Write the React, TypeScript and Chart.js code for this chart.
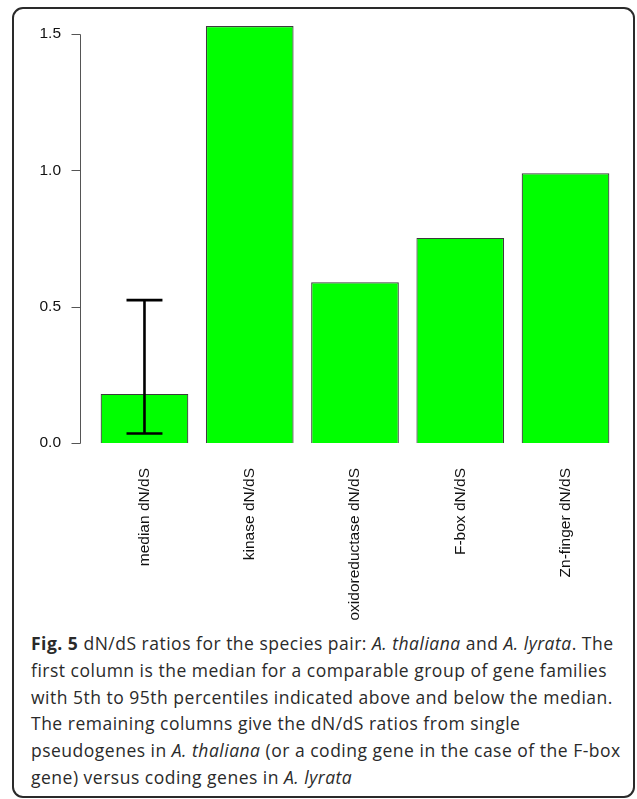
import React, { useEffect, useRef } from "react";
import { Chart, registerables } from "chart.js";

Chart.register(...registerables);

const categories = ["median dN/dS", "kinase dN/dS", "oxidoreductase dN/dS", "F-box dN/dS", "Zn-finger dN/dS"];
const ratios = [0.18, 1.529, 0.589, 0.752, 0.989];
const errLow = [0.035, null, null, null, null];
const errHigh = [0.524, null, null, null, null];
const yTicks = [0, 0.5, 1.0, 1.5];

const FONT = "'Liberation Sans', Arial, sans-serif";

const axisPlugin = {
  id: "rAxis",
  afterDatasetsDraw(chart: any) {
    const { ctx, chartArea } = chart;
    const y = chart.scales.y;
    ctx.save();
    // error bars
    const meta = chart.getDatasetMeta(0);
    ctx.strokeStyle = "#000";
    ctx.lineWidth = 2.6;
    meta.data.forEach((bar: any, i: number) => {
      const lo = errLow[i];
      const hi = errHigh[i];
      if (lo == null || hi == null) return;
      const cx = bar.x;
      const yl = y.getPixelForValue(lo);
      const yh = y.getPixelForValue(hi);
      const half = bar.width * 0.205;
      ctx.beginPath();
      ctx.moveTo(cx, yl);
      ctx.lineTo(cx, yh);
      ctx.moveTo(cx - half, yh);
      ctx.lineTo(cx + half, yh);
      ctx.moveTo(cx - half, yl);
      ctx.lineTo(cx + half, yl);
      ctx.stroke();
    });
    // y axis line and ticks
    const ax = Math.round(chartArea.left - 11.85) + 0.5;
    ctx.strokeStyle = "#555";
    ctx.lineWidth = 1;
    ctx.beginPath();
    ctx.moveTo(ax, Math.round(y.getPixelForValue(yTicks[0])) + 0.5);
    ctx.lineTo(ax, Math.round(y.getPixelForValue(yTicks[yTicks.length - 1])) + 0.5);
    yTicks.forEach((v) => {
      const py = Math.round(y.getPixelForValue(v)) + 0.5;
      ctx.moveTo(ax - 9, py);
      ctx.lineTo(ax, py);
    });
    ctx.stroke();
    ctx.restore();
  },
};

function BarChart() {
  const ref = useRef<HTMLCanvasElement>(null);
  useEffect(() => {
    const chart = new Chart(ref.current!, {
      type: "bar",
      data: {
        labels: categories,
        datasets: [
          {
            data: ratios,
            backgroundColor: "#00ff00",
            borderColor: "#3c3c3c",
            borderWidth: 1.2,
            barPercentage: 0.833,
            categoryPercentage: 1,
          },
        ],
      },
      options: {
        animation: false,
        responsive: false,
        devicePixelRatio: 1,
        layout: { padding: { left: 0, top: 20.3, right: 18.85, bottom: 0 } },
        plugins: { legend: { display: false }, tooltip: { enabled: false } },
        scales: {
          x: {
            type: "category",
            offset: true,
            grid: { display: false, drawTicks: false },
            border: { display: false },
            ticks: {
              minRotation: 90,
              maxRotation: 90,
              autoSkip: false,
              padding: 25,
              color: "#111",
              font: { family: FONT, size: 15.5 },
            },
            afterFit(scale: any) {
              scale.height = 187;
              scale.paddingLeft = 0;
              scale.paddingRight = 0;
            },
          },
          y: {
            type: "linear",
            min: 0,
            max: 1.55,
            grid: { display: false, drawTicks: false },
            border: { display: false },
            afterBuildTicks(scale: any) {
              scale.ticks = yTicks.map((v) => ({ value: v }));
            },
            ticks: {
              padding: 30.85,
              color: "#111",
              font: { family: FONT, size: 15.5 },
              callback: (v: any) => Number(v).toFixed(1),
            },
            afterFit(scale: any) {
              scale.width = 91.85;
              scale.paddingTop = 0;
              scale.paddingBottom = 0;
            },
          },
        },
      },
      plugins: [axisPlugin],
    });
    return () => chart.destroy();
  }, []);
  return (
    <canvas
      ref={ref}
      width={637}
      height={630}
      style={{ position: "absolute", left: 0, top: 0, width: 637, height: 630 }}
    />
  );
}

const captionStyle: React.CSSProperties = {
  position: "absolute",
  left: 31,
  top: 630,
  fontFamily: "'Open Sans', sans-serif",
  fontSize: 17.5,
  letterSpacing: "0.5px",
  lineHeight: "26.8px",
  color: "#2a2a2a",
  whiteSpace: "nowrap",
};

export default function App() {
  return (
    <div style={{ position: "absolute", left: 0, top: 0, width: 637, height: 799, background: "#fff", overflow: "hidden" }}>
      <div
        style={{
          position: "absolute",
          left: 12,
          top: 7,
          width: 623,
          height: 791,
          boxSizing: "border-box",
          border: "2px solid #2a2a2a",
          borderRadius: 11,
        }}
      />
      <BarChart />
      <div style={captionStyle}>
        <div>
          <b>Fig. 5</b> dN/dS ratios for the species pair: <i>A. thaliana</i> and <i>A. lyrata</i>. The
        </div>
        <div>first column is the median for a comparable group of gene families</div>
        <div>with 5th to 95th percentiles indicated above and below the median.</div>
        <div>The remaining columns give the dN/dS ratios from single</div>
        <div>
          pseudogenes in <i>A. thaliana</i> (or a coding gene in the case of the F-box
        </div>
        <div>
          gene) versus coding genes in <i>A. lyrata</i>
        </div>
      </div>
    </div>
  );
}
